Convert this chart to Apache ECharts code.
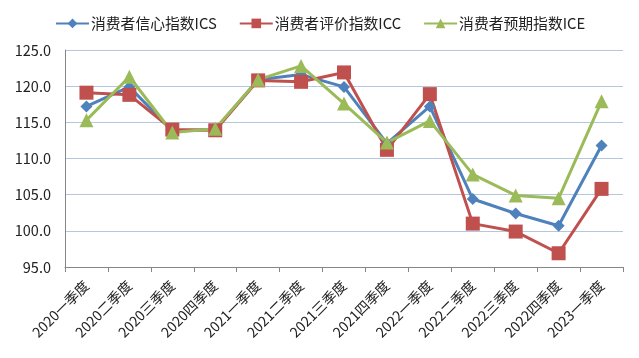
<!DOCTYPE html>
<html><head><meta charset="utf-8">
<script src="https://cdn.jsdelivr.net/npm/echarts@6/dist/echarts.min.js"></script>
<style>html,body{margin:0;padding:0;background:#fff}#c{width:639px;height:358px}</style>
</head><body><div id="c"></div>
<script>
var categories = ['2020一季度','2020二季度','2020三季度','2020四季度','2021一季度','2021二季度','2021三季度','2021四季度','2022一季度','2022二季度','2022三季度','2022四季度','2023一季度'];
var ics = [117.2,119.9,113.8,114.0,120.9,121.6,119.9,112.1,117.2,104.4,102.4,100.7,111.8];
var icc = [119.1,118.8,114.0,113.9,120.8,120.6,121.9,111.2,118.9,101.0,99.9,96.9,105.8];
var ice = [115.3,121.3,113.6,114.1,120.9,122.8,117.6,112.2,115.2,107.8,104.9,104.5,117.9];
var names = ['消费者信心指数ICS','消费者评价指数ICC','消费者预期指数ICE'];
var font = '"Noto Sans CJK SC", "Liberation Sans", sans-serif';
var chart = echarts.init(document.getElementById('c'));
function s(name, data, color, symbol, size){
  return {name:name,type:'line',data:data,symbol:symbol,symbolSize:size,
    lineStyle:{color:color,width:3},itemStyle:{color:color},z: 2};
}
chart.setOption({
  animation:false,
  color:['#4F81BD','#C0504D','#9BBB59'],
  legend:{top:11,left:50,itemWidth:33,itemHeight:12,itemGap:22,
    textStyle:{fontFamily:font,fontSize:14.8,color:'#222',padding:[0,0,0,-3]},data:names},
  grid:{left:65,right:16,top:50,bottom:91},
  xAxis:{type:'category',data:categories,boundaryGap:true,
    axisLine:{lineStyle:{color:'#868686'}},
    axisTick:{show:true,alignWithLabel:false,length:5,lineStyle:{color:'#868686'}},
    axisLabel:{rotate:45,interval:0,fontFamily:font,fontSize:14,color:'#222',margin:16}},
  yAxis:{type:'value',min:95,max:125,interval:5,
    axisLine:{show:true,lineStyle:{color:'#868686'}},
    axisTick:{show:false},
    splitLine:{lineStyle:{color:'#B3C7E0',width:1}},
    axisLabel:{fontFamily:font,fontSize:14.5,color:'#222',margin:14,formatter:function(v){return v.toFixed(1);}}},
  series:[
    s(names[0],ics,'#4F81BD','diamond',12),
    s(names[1],icc,'#C0504D','rect',14),
    s(names[2],ice,'#9BBB59','triangle',14)
  ]
});
</script></body></html>
